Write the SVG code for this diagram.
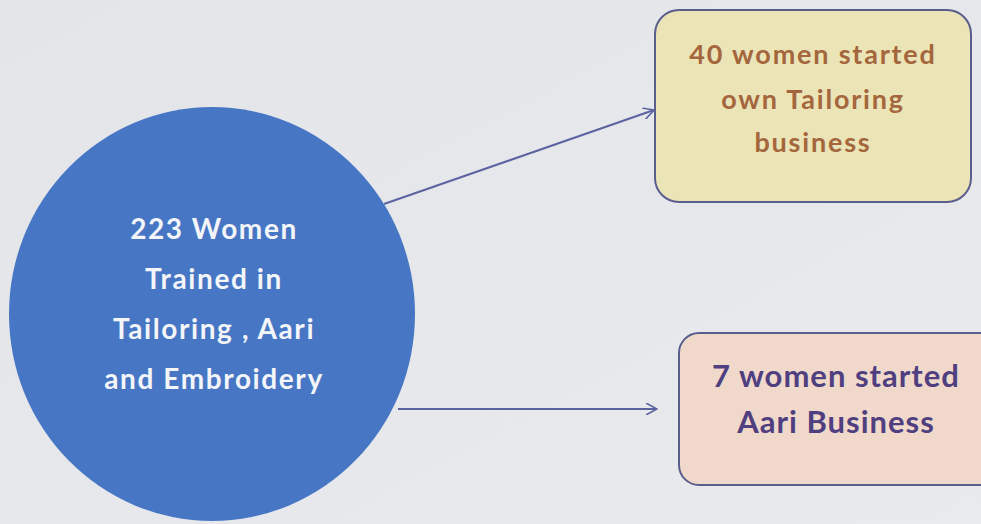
<svg xmlns="http://www.w3.org/2000/svg" width="981" height="524" viewBox="0 0 981 524">
<defs>
<marker id="arr" viewBox="0 0 12 12" refX="11" refY="6" markerWidth="12" markerHeight="12" markerUnits="userSpaceOnUse" orient="auto">
<path d="M0,0 L11,6 L0,12" fill="none" stroke="#5b63a0" stroke-width="1.6"/>
</marker>
<linearGradient id="bg" x1="0" y1="0" x2="1" y2="1">
<stop offset="0" stop-color="#e3e5e9"/>
<stop offset="1" stop-color="#e9eaee"/>
</linearGradient>
</defs>
<style>
.t{font-family:Lato,"Open Sans","Liberation Sans",sans-serif;font-weight:bold;text-anchor:middle}
.w{fill:#f3f5f8;font-size:28px;letter-spacing:1.6px}
.br{fill:#a4663c;font-size:27px;letter-spacing:1.8px}
.pu{fill:#4f3f80;font-size:31px;letter-spacing:1px}
.box{stroke:#5a5e8c;stroke-width:2}
.con{stroke:#5b63a0;stroke-width:2;fill:none}
</style>
<rect width="981" height="524" fill="url(#bg)"/>
<g id="connectors">
<line class="con" x1="384" y1="204" x2="654" y2="110" marker-end="url(#arr)"/>
<line class="con" x1="398" y1="409" x2="657" y2="409" marker-end="url(#arr)"/>
</g>
<g id="circle">
<ellipse cx="212" cy="314" rx="203" ry="207" fill="#4777c4"/>
<text class="t w" x="214" y="239">223 Women</text>
<text class="t w" x="214" y="289">Trained in</text>
<text class="t w" x="214" y="339">Tailoring , Aari</text>
<text class="t w" x="214" y="389">and Embroidery</text>
</g>
<g id="box1">
<rect class="box" x="655" y="10" width="316" height="192" rx="24" fill="#ebe4b6"/>
<text class="t br" x="813" y="64">40 women started</text>
<text class="t br" x="813" y="109">own Tailoring</text>
<text class="t br" x="813" y="152">business</text>
</g>
<g id="box2">
<rect class="box" x="679" y="333" width="320" height="152" rx="20" fill="#f0d8ca"/>
<text class="t pu" x="836" y="387">7 women started</text>
<text class="t pu" x="836" y="433">Aari Business</text>
</g>
</svg>
